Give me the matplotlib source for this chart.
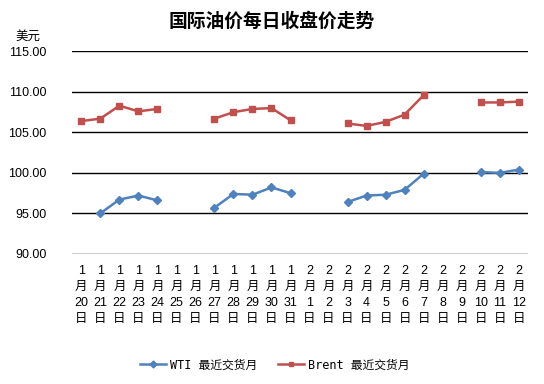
import numpy as np
import matplotlib
matplotlib.use("Agg")
import matplotlib.pyplot as plt

plt.rcParams['font.family'] = ['Liberation Sans', 'Noto Sans CJK SC', 'DejaVu Sans']

nan = np.nan
dates = ['1\n月\n%d\n日' % d for d in range(20, 32)] + ['2\n月\n%d\n日' % d for d in range(1, 13)]
wti = [nan, 95.0, 96.7, 97.2, 96.6, nan, nan, 95.7, 97.4, 97.3, 98.2, 97.5,
       nan, nan, 96.4, 97.2, 97.3, 97.9, 99.9, nan, nan, 100.1, 100.0, 100.4]
brent = [106.4, 106.7, 108.3, 107.6, 107.9, nan, nan, 106.7, 107.5, 107.9, 108.0, 106.5,
         nan, nan, 106.1, 105.8, 106.3, 107.2, 109.6, nan, nan, 108.7, 108.7, 108.8]
yticks = [90, 95, 100, 105, 110, 115]

fig = plt.figure(figsize=(5.44, 3.84), dpi=100)
ax = fig.add_axes([0.132, 0.339, 0.839, 0.527])
x = np.arange(len(dates))

ax.plot(x, wti, color='#4F81BD', lw=1.8, marker='D', ms=4, label='WTI 最近交货月')
ax.plot(x, brent, color='#C0504D', lw=1.8, marker='s', ms=5, label='Brent 最近交货月')

ax.set_xlim(-0.5, len(dates) - 0.5)
ax.set_ylim(90, 115)
ax.set_yticks(yticks)
ax.set_yticklabels(['%.2f' % v for v in yticks], fontsize=9)
for v in yticks:
    ax.axhline(v, color='black', lw=1, zorder=0)
ax.set_xticks(x)
ax.set_xticklabels(dates, fontsize=9, linespacing=1.45)
ax.tick_params(length=0, pad=8)
ax.tick_params(axis='y', pad=18)
for s in ax.spines.values():
    s.set_visible(False)

fig.text(0.5, 0.945, '国际油价每日收盘价走势', ha='center', va='center',
         fontsize=13.5, fontweight='bold', family=['Noto Sans CJK SC'])
fig.text(0.028, 0.905, '美元', ha='left', va='center', fontsize=9,
         family=['Noto Sans CJK SC'])

leg = fig.legend(loc='center', bbox_to_anchor=(0.505, 0.05), ncol=2, frameon=False,
                 handlelength=2.2, columnspacing=1.8, handletextpad=0.3,
                 prop={'family': ['DejaVu Sans Mono', 'Noto Sans CJK SC'], 'size': 8.5})
for h in leg.legend_handles:
    h.set_markersize(3.5)

fig.savefig('out.png', dpi=100)
